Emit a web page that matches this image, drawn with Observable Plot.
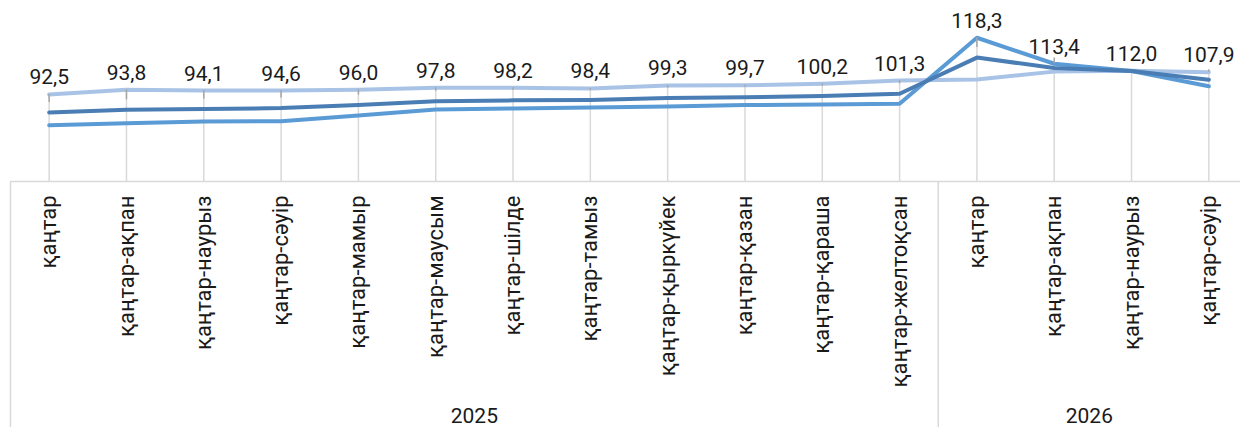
<!DOCTYPE html>
<html><head><meta charset="utf-8">
<script src="https://cdn.jsdelivr.net/npm/d3@7"></script>
<script src="https://cdn.jsdelivr.net/npm/@observablehq/plot@0.6"></script>
<style>html,body{margin:0;padding:0;background:#fff;overflow:hidden}</style>
</head><body><div id="chart"></div>
<script>
const categories = ["қаңтар","қаңтар-ақпан","қаңтар-наурыз","қаңтар-сәуір","қаңтар-мамыр","қаңтар-маусым","қаңтар-шілде","қаңтар-тамыз","қаңтар-қыркүйек","қаңтар-қазан","қаңтар-қараша","қаңтар-желтоқсан","қаңтар","қаңтар-ақпан","қаңтар-наурыз","қаңтар-сәуір"];
const years = ["2025","2026"];
const yearCounts = [12, 4];
const seriesDark   = [92.5,93.8,94.1,94.6,96.0,97.8,98.2,98.4,99.3,99.7,100.2,101.3,118.3,113.4,112.0,107.9];
const seriesLight  = [101.0,103.2,102.8,102.8,103.2,104.1,104.1,103.8,105.2,105.3,106.0,107.5,108.0,111.7,112.1,111.4];
const seriesMedium = [86.5,87.5,88.3,88.4,91.1,93.9,94.4,94.8,95.3,96.0,96.3,96.6,127.6,115.4,112.0,104.8];

const yMin = 60.1, yMax = 145.1;
const W = 1240, H = 427, mL = 10, mB = 246;
const xRangeEnd = 1247;
const n = categories.length;

const rows = categories.map((c, i) => ({
  i, dark: seriesDark[i], light: seriesLight[i], medium: seriesMedium[i],
  top: Math.max(seriesDark[i], seriesLight[i], seriesMedium[i])
}));
const long = [];
for (const r of rows) {
  long.push({i: r.i, v: r.light, s: "light"});
  long.push({i: r.i, v: r.medium, s: "medium"});
  long.push({i: r.i, v: r.dark, s: "dark"});
}
const bounds = [-0.5];
yearCounts.forEach(c => bounds.push(bounds[bounds.length - 1] + c));
const step = (xRangeEnd - mL) / n;
const visibleEnd = -0.5 + (W - mL) / step;
const yearCenters = years.map((y, k) => (bounds[k] + Math.min(bounds[k + 1], visibleEnd)) / 2);

const fmt = v => d3.format(".1f")(v).replace(".", ",");
const font = "Roboto, 'Liberation Sans', sans-serif";

const chart = Plot.plot({
  width: W, height: H,
  marginLeft: mL, marginRight: 0, marginTop: 0, marginBottom: mB,
  style: {fontFamily: font, background: "#fff"},
  x: {type: "linear", domain: [-0.5, n - 0.5], range: [mL, xRangeEnd], label: null},
  y: {domain: [yMin, yMax], axis: null},
  color: {domain: ["light", "medium", "dark"], range: ["#a9c3e6", "#5b9bd5", "#4a7db3"]},
  marks: [
    Plot.ruleX(rows, {x: "i", y1: yMin, y2: "top", stroke: "#d9d9d9", strokeWidth: 1.5}),
    Plot.ruleY([yMin], {stroke: "#d9d9d9", strokeWidth: 1.5}),
    Plot.axisX(bounds.slice(0, -1), {tickSize: mB, tickFormat: () => "", label: null, stroke: "#d9d9d9", strokeWidth: 1.5, color: "#d9d9d9"}),
    Plot.line(long, {x: "i", y: "v", z: "s", stroke: "s", strokeWidth: 4, strokeLinecap: "round", strokeLinejoin: "round"}),
    Plot.ruleX(rows.filter(r => r.top - r.dark > 1), {x: "i", y1: "dark", y2: "top", insetTop: -10, stroke: "#a6a6a6", strokeWidth: 1.5}),
    Plot.text(rows, {x: "i", y: "top", text: d => fmt(d.dark), dy: -10, lineAnchor: "bottom", fontSize: 21, fill: "#1a1a1a"}),
    Plot.axisX(d3.range(n), {tickRotate: -90, tickSize: 0, tickPadding: 14, tickFormat: i => categories[i], label: null, fontSize: 22, fill: "#1a1a1a"}),
    Plot.axisX(yearCenters, {tickSize: 0, tickPadding: 227, tickFormat: (d, k) => years[k], label: null, fontSize: 21, fill: "#1a1a1a"})
  ]
});
document.getElementById("chart").appendChild(chart);
</script>
</body></html>
